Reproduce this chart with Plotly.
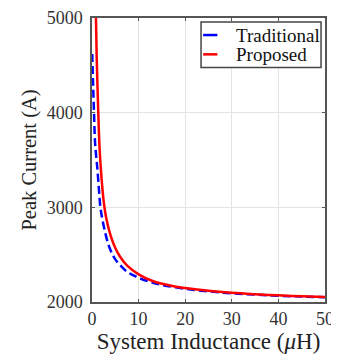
import plotly.graph_objects as go

# Data
trad_L = [0.05, 0.2, 0.4, 0.65, 0.9, 1.15, 1.5, 1.8, 2.2, 2.9, 3.5, 4.3, 5.0, 6.1, 7.5, 8.9, 10.5, 12.5, 15, 20, 25, 30, 35, 40, 45, 50]
trad_I = [4620, 4350, 4050, 3690, 3540, 3410, 3180, 3000, 2880, 2720, 2610, 2511, 2450, 2386, 2320, 2282, 2245, 2212, 2180, 2140, 2112, 2092, 2078, 2066, 2057, 2050]

prop_L = [0.85, 1.0, 1.35, 1.6, 2.0, 2.5, 3.0, 4.0, 5.0, 6.0, 7.5, 10, 13, 17.5, 20, 25, 30, 35, 40, 45, 50]
prop_I = [5000, 4600, 4000, 3650, 3340, 3065, 2900, 2700, 2570, 2480, 2386, 2292, 2222, 2167, 2148, 2118, 2097, 2082, 2070, 2060, 2052]

series_names = ["Traditional", "Proposed"]
series_colors = ["rgb(0,0,255)", "rgb(255,0,0)"]

x_ticks = [0, 10, 20, 30, 40, 50]
y_ticks = [2000, 3000, 4000, 5000]

FONT = "Liberation Serif, Times New Roman, serif"

fig = go.Figure()
fig.add_trace(go.Scatter(x=trad_L, y=trad_I, mode="lines", name=series_names[0], showlegend=False,
                         line=dict(color=series_colors[0], width=2.5, dash="8px,4px", shape="spline")))
fig.add_trace(go.Scatter(x=prop_L, y=prop_I, mode="lines", name=series_names[1], showlegend=False,
                         line=dict(color=series_colors[1], width=2.5, shape="spline")))

axis_common = dict(
    showline=True, linecolor="#555555", linewidth=1.5, mirror="ticks",
    ticks="inside", ticklen=3, tickcolor="#555555",
    showgrid=True, gridcolor="#e3e3e3", gridwidth=1,
    zeroline=False, automargin=False, ticklabeloverflow="allow",
    tickfont=dict(family=FONT, size=18, color="#333333"),
)

fig.update_xaxes(range=[0, 50], tickvals=x_ticks, **axis_common,
                 title=dict(text="System Inductance (<i>μ</i>H)",
                            font=dict(family=FONT, size=23, color="#222222"), standoff=2))
fig.update_yaxes(range=[2000, 5000], tickvals=y_ticks, ticklabelstandoff=4, **axis_common,
                 title=dict(text="Peak Current (A)",
                            font=dict(family=FONT, size=20.5, color="#222222"), standoff=4))

# Manual legend (box, line samples, labels) in paper coordinates
leg_x0, leg_x1, leg_y0, leg_y1 = 0.468, 0.983, 0.826, 0.986
item_y = [0.940, 0.872]
shapes = [dict(type="rect", xref="paper", yref="paper", x0=leg_x0, x1=leg_x1, y0=leg_y0, y1=leg_y1,
               line=dict(color="#444444", width=1.5), fillcolor="white", layer="above")]
annotations = []
for name, color, yy in zip(series_names, series_colors, item_y):
    shapes.append(dict(type="line", xref="paper", yref="paper", x0=0.477, x1=0.538, y0=yy, y1=yy,
                       line=dict(color=color, width=2.5), layer="above"))
    annotations.append(dict(text=name, xref="paper", yref="paper", x=0.608, y=yy,
                            xanchor="left", yanchor="middle", showarrow=False,
                            font=dict(family=FONT, size=19, color="#111111")))

fig.update_layout(
    width=331, height=354,
    margin=dict(l=84, r=14, t=10, b=60),
    paper_bgcolor="white", plot_bgcolor="white",
    showlegend=False,
    shapes=shapes, annotations=annotations,
)

fig.write_html("out.html")
